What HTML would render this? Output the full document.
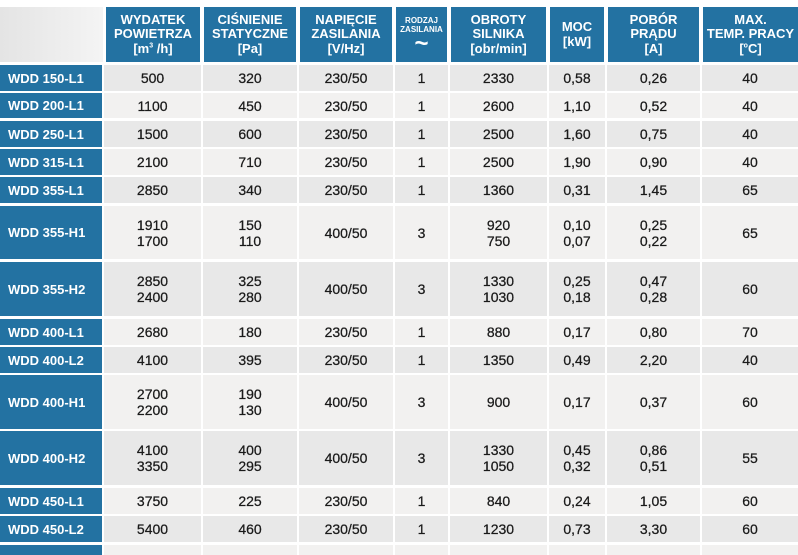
<!DOCTYPE html>
<html><head><meta charset="utf-8"><style>
body{margin:0;width:798px;height:553px;background:#fff;position:relative;overflow:hidden;font-family:"Liberation Sans","DejaVu Sans",sans-serif}
.c{position:absolute;display:flex;align-items:center;justify-content:center;text-align:center;box-sizing:border-box}
.h{background:#2372a2;color:#fff;font-weight:bold;font-size:13px;line-height:14.5px;top:7px;height:55px}
.l{background:#2372a2;color:#fff;font-weight:bold;font-size:13px;left:0;width:102px;justify-content:flex-start;padding-left:8px}
.d{font-size:14px;color:#1a1a1a;line-height:16px;-webkit-text-stroke:0.25px #1a1a1a}
sup{font-size:7px;line-height:0}
</style></head><body>
<div class="c" style="left:0;top:7px;width:103px;height:55px;background:linear-gradient(90deg,#e4e4e4,#f4f4f4)"></div>
<div class="c h" style="left:106px;width:94px"><span>WYDATEK<br>POWIETRZA<br>[m<sup>3</sup> /h]</span></div>
<div class="c h" style="left:204px;width:92px"><span>CIŚNIENIE<br>STATYCZNE<br>[Pa]</span></div>
<div class="c h" style="left:300px;width:92px"><span>NAPIĘCIE<br>ZASILANIA<br>[V/Hz]</span></div>
<div class="c h" style="left:396px;width:51px;font-size:8px;line-height:9px"><span>RODZAJ<br>ZASILANIA<br><span style="font-size:24px;line-height:20px">~</span></span></div>
<div class="c h" style="left:451px;width:95px"><span>OBROTY<br>SILNIKA<br>[obr/min]</span></div>
<div class="c h" style="left:550px;width:54px"><span>MOC<br>[kW]</span></div>
<div class="c h" style="left:608px;width:91px"><span>POBÓR<br>PRĄDU<br>[A]</span></div>
<div class="c h" style="left:703px;width:95px"><span>MAX.<br>TEMP. PRACY<br>[<sup>o</sup>C]</span></div>
<div id="rows"></div>
<script>
var rows=[
[65,26,"WDD 150-L1",["500","320","230/50","1","2330","0,58","0,26","40"]],
[93,25,"WDD 200-L1",["1100","450","230/50","1","2600","1,10","0,52","40"]],
[121,26,"WDD 250-L1",["1500","600","230/50","1","2500","1,60","0,75","40"]],
[149,26,"WDD 315-L1",["2100","710","230/50","1","2500","1,90","0,90","40"]],
[177,26,"WDD 355-L1",["2850","340","230/50","1","1360","0,31","1,45","65"]],
[206,53,"WDD 355-H1",["1910<br>1700","150<br>110","400/50","3","920<br>750","0,10<br>0,07","0,25<br>0,22","65"]],
[262,54,"WDD 355-H2",["2850<br>2400","325<br>280","400/50","3","1330<br>1030","0,25<br>0,18","0,47<br>0,28","60"]],
[319,26,"WDD 400-L1",["2680","180","230/50","1","880","0,17","0,80","70"]],
[347,26,"WDD 400-L2",["4100","395","230/50","1","1350","0,49","2,20","40"]],
[375,54,"WDD 400-H1",["2700<br>2200","190<br>130","400/50","3","900","0,17","0,37","60"]],
[431,54,"WDD 400-H2",["4100<br>3350","400<br>295","400/50","3","1330<br>1050","0,45<br>0,32","0,86<br>0,51","55"]],
[488,26,"WDD 450-L1",["3750","225","230/50","1","840","0,24","1,05","60"]],
[516,26,"WDD 450-L2",["5400","460","230/50","1","1230","0,73","3,30","60"]],
[545,10,"",["","","","","","","",""]]];
var cols=[[104,97],[203,94],[299,94],[395,53],[450,97],[549,56],[607,93],[702,96]];
var h="";
rows.forEach(function(r,i){
 var bg=i%2==0?"#e8e8e8":"#f2f1f0";
 h+='<div class="c l" style="top:'+r[0]+'px;height:'+r[1]+'px">'+r[2]+'</div>';
 cols.forEach(function(c,j){
  h+='<div class="c d" style="left:'+c[0]+'px;width:'+c[1]+'px;top:'+r[0]+'px;height:'+r[1]+'px;background:'+bg+'"><span>'+r[3][j]+'</span></div>';
 });
});
document.getElementById("rows").innerHTML=h;
</script>
</body></html>
